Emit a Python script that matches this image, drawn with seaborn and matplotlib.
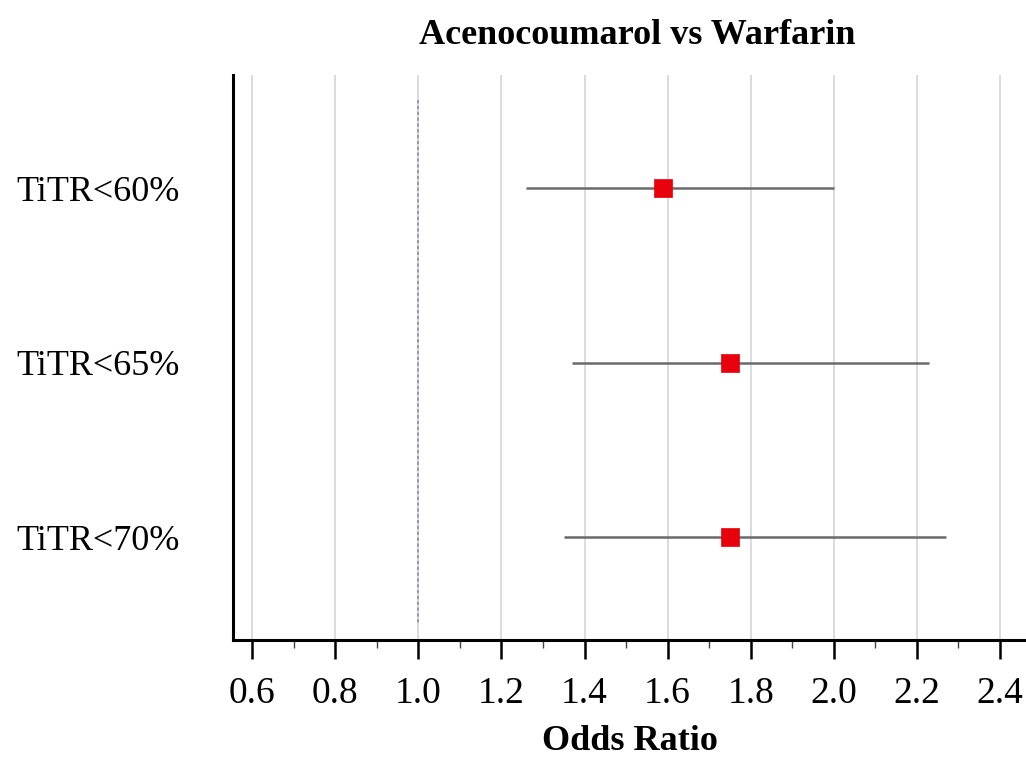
import matplotlib
matplotlib.use("Agg")
import matplotlib.pyplot as plt
import numpy as np
import pandas as pd
import seaborn as sns
from matplotlib.ticker import MultipleLocator

# Forest plot data
groups = ["TiTR<60%", "TiTR<65%", "TiTR<70%"]
odds_ratio = [1.59, 1.75, 1.75]
ci_low = [1.26, 1.37, 1.35]
ci_high = [2.00, 2.23, 2.27]
x_ticks = [0.6, 0.8, 1.0, 1.2, 1.4, 1.6, 1.8, 2.0, 2.2, 2.4]

df = pd.DataFrame({"group": groups, "or": odds_ratio, "lo": ci_low, "hi": ci_high})
df["pos"] = np.arange(len(df))

sns.set_style("white")
plt.rcParams["font.family"] = ["Liberation Serif", "DejaVu Serif"]
plt.rcParams["text.color"] = "black"
plt.rcParams["xtick.color"] = "black"
plt.rcParams["ytick.color"] = "black"
plt.rcParams["axes.labelcolor"] = "black"

fig = plt.figure(figsize=(10.26, 7.58), dpi=100)
ax = fig.add_axes([233 / 1026, 1 - 640 / 758, 1 - 233 / 1026, (640 - 75) / 758])

# light vertical grid at major ticks
ax.set_axisbelow(True)
ax.xaxis.grid(True, color="#dcdcdc", linewidth=1.4)

# reference line at OR = 1
ax.vlines(1.0, -0.505, 2.49, color="#8a8ab8", linestyle=(0, (2, 1.5)), linewidth=1.2, zorder=2)

# confidence intervals
ax.hlines(df["pos"], df["lo"], df["hi"], color="#6a6a6a", linewidth=1.8, zorder=3)

# point estimates
sns.scatterplot(data=df, x="or", y="pos", marker="s", s=150, color="#e8000b",
                edgecolor="#e8000b", linewidth=0.5, ax=ax, zorder=4, legend=False)

ax.set_xlim(0.554, 2.4625)
ax.set_ylim(2.59, -0.648)
ax.set_xticks(x_ticks)
ax.set_xticklabels([f"{t:.1f}" for t in x_ticks])
ax.xaxis.set_minor_locator(MultipleLocator(0.1))
ax.set_yticks(df["pos"])
ax.set_yticklabels(groups)

ax.tick_params(axis="x", which="major", length=14, width=1.8, color="black",
               labelsize=27, pad=12, bottom=True)
ax.tick_params(axis="x", which="minor", length=6, width=1.0, color="#444444", bottom=True)
ax.tick_params(axis="y", length=0, labelsize=26, pad=38)

for side in ["top", "right"]:
    ax.spines[side].set_visible(False)
for side in ["left", "bottom"]:
    ax.spines[side].set_color("black")
    ax.spines[side].set_linewidth(2.2)

ax.set_xlabel("Odds Ratio", fontsize=26, fontweight="bold", labelpad=10)
ax.set_ylabel("")
ax.set_title("Acenocoumarol vs Warfarin", fontsize=26, fontweight="bold", pad=22, x=0.51)

fig.savefig("out.png", dpi=100)
